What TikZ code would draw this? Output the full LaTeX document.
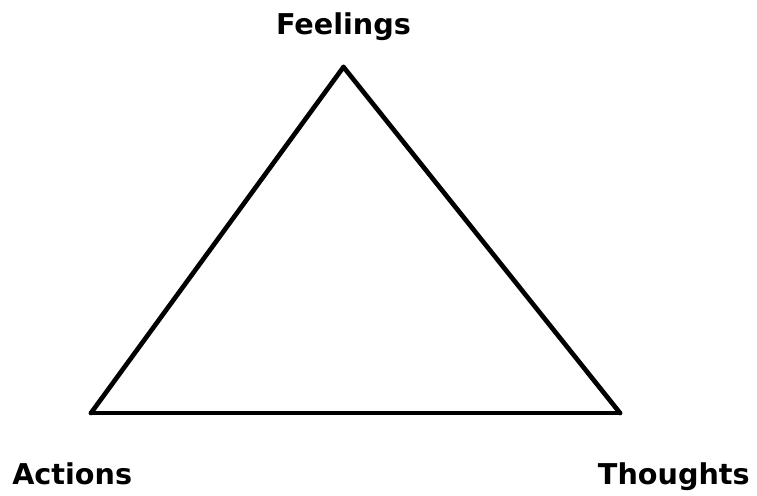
\documentclass[tikz,border=0pt]{standalone}
\usepackage{fontspec}
\setmainfont{DejaVu Sans}
\usepackage{xcolor}

\begin{document}
\begin{tikzpicture}[
  x=0.75pt,y=-0.75pt,  side/.style={line width=3.5pt,line cap=round},  corner/.style={font=\fontsize{21.5}{26}\selectfont\bfseries,inner sep=0pt}
]
  \useasboundingbox (0,0) rectangle (757,496);
  \coordinate (top) at (343.5,67);
  \coordinate (left) at (91,413);
  \coordinate (right) at (620,413);
  \node[corner,anchor=base] (feel) at (343.5,34) {Feelings};
  \node[corner,anchor=base west] (act) at (12,484) {Actions};
  \node[corner,anchor=base east] (thou) at (750,484) {Thoughts};
  \draw[side] (left) -- (top);
  \draw[side] (top) -- (right);
  \draw[side] (left) -- (right);
\end{tikzpicture}
\end{document}
